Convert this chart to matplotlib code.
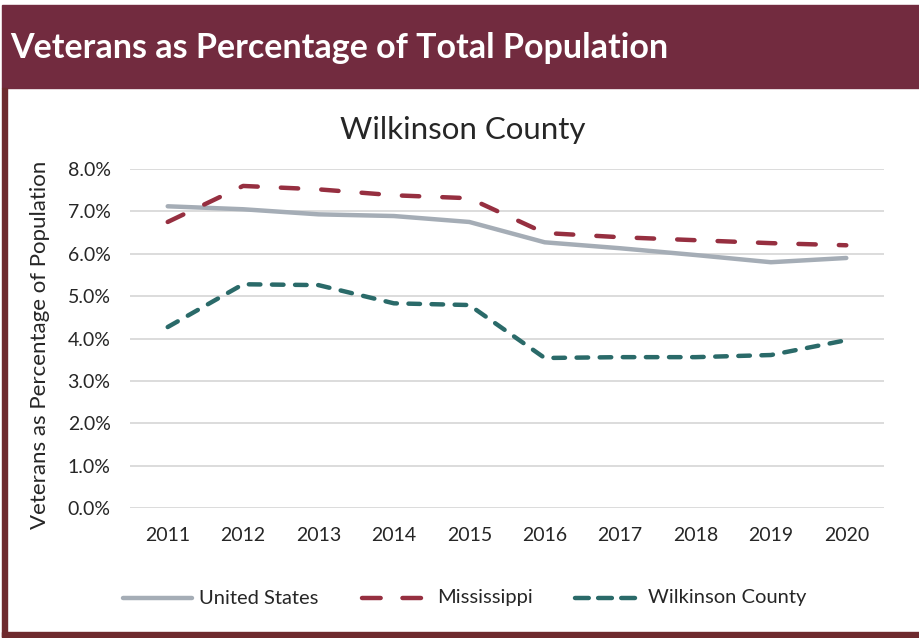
import matplotlib
matplotlib.use('Agg')
import matplotlib.pyplot as plt
from matplotlib.patches import Rectangle
from matplotlib.lines import Line2D
from matplotlib.ticker import FuncFormatter

plt.rcParams['font.family'] = ['Lato', 'DejaVu Sans']

years = ['2011', '2012', '2013', '2014', '2015', '2016', '2017', '2018', '2019', '2020']
united_states = [7.12, 7.05, 6.93, 6.89, 6.75, 6.27, 6.13, 5.97, 5.80, 5.90]
mississippi = [6.75, 7.60, 7.52, 7.38, 7.31, 6.49, 6.39, 6.32, 6.25, 6.20]
wilkinson = [4.27, 5.28, 5.26, 4.83, 4.79, 3.54, 3.56, 3.56, 3.61, 3.96]
series_names = ['United States', 'Mississippi', 'Wilkinson County']

header_color = '#722B3F'
border_color = '#6E2A2E'
text_color = '#262626'
us_color = '#A5ADB6'
ms_color = '#962F40'
wk_color = '#2A6A69'
ms_dash = (3.9, 5.2)
wk_dash = (2.6, 2.6)

W, H = 919, 638
fig = plt.figure(figsize=(W / 100, H / 100), dpi=100)

# header band and frame
fig.patches.append(Rectangle((2 / W, 1 - 88 / H), 1 - 2 / W, 83 / H,
                             transform=fig.transFigure, color=header_color, zorder=0))
fig.patches.append(Rectangle((2 / W, 1 / H), 5 / W, 1 - 89 / H,
                             transform=fig.transFigure, color=border_color, zorder=0))
fig.patches.append(Rectangle((2 / W, 1 / H), 1 - 2 / W, 5 / H,
                             transform=fig.transFigure, color=border_color, zorder=0))
fig.text(10 / W, 1 - 48 / H, 'Veterans as Percentage of Total Population',
         color='white', fontsize=24.5, fontweight='bold', va='center', ha='left')

ax = fig.add_axes([130 / W, 1 - 508 / H, 754 / W, 339 / H])
x = list(range(len(years)))
ax.plot(x, united_states, color=us_color, lw=3.2, solid_capstyle='round',
        solid_joinstyle='round', zorder=3)
ax.plot(x, mississippi, color=ms_color, lw=3.2, dashes=ms_dash,
        dash_capstyle='round', zorder=4)
ax.plot(x, wilkinson, color=wk_color, lw=3.2, dashes=wk_dash,
        dash_capstyle='round', zorder=4)

ax.set_xlim(-0.5, 9.5)
ax.set_ylim(0, 8)
ax.set_xticks(x)
ax.set_xticklabels(years)
ax.set_yticks(range(0, 9))
ax.yaxis.set_major_formatter(FuncFormatter(lambda v, p: f'{v:.1f}%'))
ax.grid(axis='y', color='#D9D9D9', lw=1.3)
ax.set_axisbelow(True)
for s in ax.spines.values():
    s.set_visible(False)
ax.tick_params(length=0, labelsize=14, colors=text_color)
ax.tick_params(axis='x', pad=14)
ax.tick_params(axis='y', pad=14)

fig.text(463 / W, 1 - 130 / H, 'Wilkinson County', fontsize=22.5, color=text_color,
         ha='center', va='center')
fig.text(40 / W, 1 - 345 / H, 'Veterans as Percentage of Population', fontsize=16,
         color=text_color, rotation=90, ha='center', va='center')

# legend, laid out by hand like the Excel one
ly = 1 - 598 / H
legend_items = [
    (123, 192, 199, dict(color=us_color, lw=3.2, solid_capstyle='round')),
    (362, 421, 437, dict(color=ms_color, lw=3.2, dashes=(4.2, 4.9), dash_capstyle='round')),
    (575, 635, 648, dict(color=wk_color, lw=3.2, dashes=(3.1, 2.1), dash_capstyle='round')),
]
for name, (x0, x1, tx, style) in zip(series_names, legend_items):
    fig.add_artist(Line2D([x0 / W, x1 / W], [ly, ly], transform=fig.transFigure, **style))
    fig.text(tx / W, ly, name, fontsize=14.5, color=text_color, ha='left', va='center')

fig.savefig('out.png', dpi=100)
